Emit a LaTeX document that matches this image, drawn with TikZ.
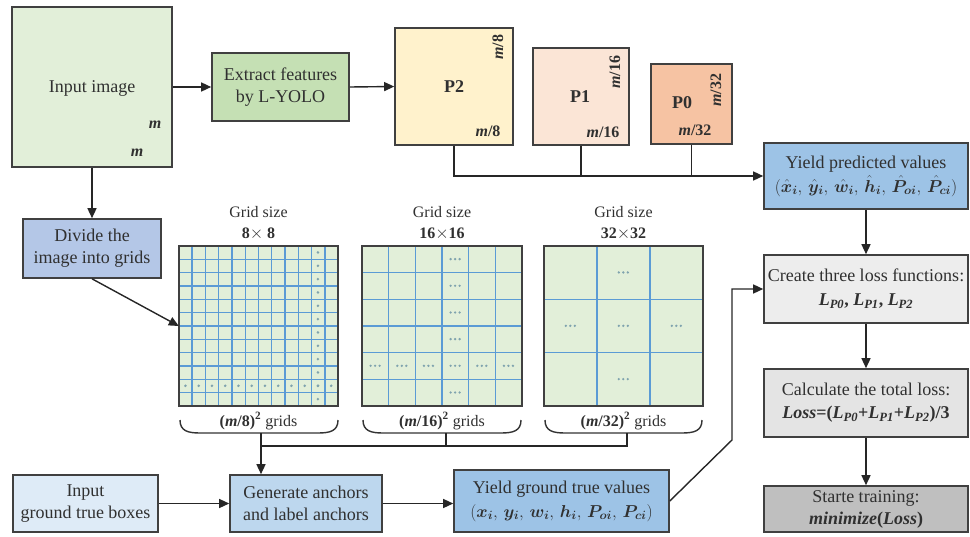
\documentclass[tikz,border=0pt]{standalone}
\usepackage{fontspec}
\setmainfont{Liberation Serif}
\usepackage{bm}
\usetikzlibrary{arrows.meta,calc}

\definecolor{txt}{HTML}{303030}
\definecolor{edge}{HTML}{404040}
\definecolor{greenlt}{HTML}{E2EFD9}
\definecolor{greenmd}{HTML}{C5E0B4}
\definecolor{yellowlt}{HTML}{FFF2CC}
\definecolor{peachlt}{HTML}{FBE5D6}
\definecolor{peachmd}{HTML}{F6C3A3}
\definecolor{bluemd}{HTML}{9DC3E6}
\definecolor{bluelt}{HTML}{DEEBF7}
\definecolor{bluesoft}{HTML}{BDD7EE}
\definecolor{lavender}{HTML}{B4C7E7}
\definecolor{graylt}{HTML}{EDEDED}
\definecolor{graymd}{HTML}{E4E4E4}
\definecolor{graydk}{HTML}{BFBFBF}
\definecolor{gridblue}{HTML}{5B9BD5}
\definecolor{dotc}{HTML}{7FA3AE}

\tikzset{
  box/.style={draw=edge, line width=1.6pt, inner sep=0pt, align=center,
    text=txt, font=\fontsize{18}{22}\selectfont},
  lbl/.style={inner sep=0pt, text=txt, font=\fontsize{16}{19}\selectfont},
  plbl/.style={inner sep=0pt, text=txt, font=\fontsize{16}{19}\selectfont\bfseries},
  link/.style={draw=black!85, line width=1.4pt},
  arr/.style={link, -{Triangle[length=10pt,width=9pt]}},
  gridbox/.style={fill=greenlt, inner sep=0pt},
  gline/.style={draw=gridblue, line width=1.3pt},
  gborder/.style={draw=edge, line width=1.8pt},
  brace/.style={draw=black!80, line width=1.4pt},
}

\newcommand{\mi}{\textbf{\textit{m}}}
\newcommand{\dotthree}[1]{\fill[dotc] ($#1+(-4.5,0)$) circle (1.3pt) ($#1$) circle (1.3pt) ($#1+(4.5,0)$) circle (1.3pt);}

\begin{document}
\begin{tikzpicture}[x=1pt,y=-1pt]
\useasboundingbox (0,0) rectangle (970,536);

% ---------- top row ----------
\node[box, fill=greenlt, minimum width=160pt, minimum height=160pt] (inimg) at (92,87) {};
\node[lbl, font=\fontsize{18}{22}\selectfont] (inimgt) at (92,88) {Input image};
\node[plbl] (inm1) at (155,125) {\mi};
\node[plbl] (inm2) at (137,153) {\mi};

\node[box, fill=greenmd, minimum width=137pt, minimum height=68pt] (extract) at (280.5,87)
  {Extract features\\by L-YOLO};

\node[box, fill=yellowlt, minimum width=118pt, minimum height=117pt] (p2) at (454,86.5) {};
\node[plbl, font=\fontsize{18}{22}\selectfont\bfseries] (p2t) at (454,87) {P2};
\node[plbl] (p2b) at (488,131) {\mi/8};
\node[plbl, rotate=90] (p2r) at (498,47) {\mi/8};

\node[box, fill=peachlt, minimum width=96pt, minimum height=97pt] (p1) at (581,96.5) {};
\node[plbl, font=\fontsize{18}{22}\selectfont\bfseries] (p1t) at (580,97) {P1};
\node[plbl] (p1b) at (603,132) {\mi/16};
\node[plbl, rotate=90] (p1r) at (615,72) {\mi/16};

\node[box, fill=peachmd, minimum width=81pt, minimum height=80pt] (p0) at (691.5,104) {};
\node[plbl, font=\fontsize{18}{22}\selectfont\bfseries] (p0t) at (682,103) {P0};
\node[plbl] (p0b) at (695,130) {\mi/32};
\node[plbl, rotate=90] (p0r) at (716,90) {\mi/32};

% ---------- right column ----------
\node[box, fill=bluemd, minimum width=204pt, minimum height=66pt] (ypred) at (866,176)
  {Yield predicted values\\[2pt]
   $(\bm{\hat{x}_i},\,\bm{\hat{y}_i},\,\bm{\hat{w}_i},\,\bm{\hat{h}_i},\,\bm{\hat{P}_{oi}},\,\bm{\hat{P}_{ci}})$};
\node[box, fill=graylt, minimum width=204pt, minimum height=68pt] (create) at (866,289)
  {Create three loss functions:\\[2pt]
   \textbf{\textit{L}\textsubscript{\textit{P0}}, \textit{L}\textsubscript{\textit{P1}}, \textit{L}\textsubscript{\textit{P2}}}};
\node[box, fill=graymd, minimum width=204pt, minimum height=68pt] (calc) at (866,403)
  {Calculate the total loss:\\[1pt]
   \textbf{\textit{Loss}=(\textit{L}\textsubscript{\textit{P0}}+\textit{L}\textsubscript{\textit{P1}}+\textit{L}\textsubscript{\textit{P2}})/3}};
\node[box, fill=graydk, minimum width=204pt, minimum height=46pt] (train) at (866,509)
  {Starte training:\\[0pt]
   \textbf{\textit{minimize}(\textit{Loss})}};

% ---------- left column / bottom row ----------
\node[box, fill=lavender, minimum width=138pt, minimum height=59pt] (divide) at (92,248.5)
  {Divide the\\image into grids};
\node[box, fill=bluelt, minimum width=145pt, minimum height=57pt] (ingt) at (85.5,503.5)
  {Input\\ground true boxes};
\node[box, fill=bluesoft, minimum width=152pt, minimum height=57pt] (gen) at (306,503.5)
  {Generate anchors\\and label anchors};
\node[box, fill=bluemd, minimum width=215pt, minimum height=62pt] (ygt) at (561.5,501)
  {Yield ground true values\\[2pt]
   $(\bm{x_i},\,\bm{y_i},\,\bm{w_i},\,\bm{h_i},\,\bm{P_{oi}},\,\bm{P_{ci}})$};

% ---------- grids ----------
\node[lbl] (g8a) at (258.5,212) {Grid size};
\node[lbl, font=\fontsize{16}{19}\selectfont\bfseries] (g8b) at (258.5,234) {8$\times$ 8};
\node[lbl] (g16a) at (442,212) {Grid size};
\node[lbl, font=\fontsize{16}{19}\selectfont\bfseries] (g16b) at (442,234) {16$\times$16};
\node[lbl] (g32a) at (623.5,212) {Grid size};
\node[lbl, font=\fontsize{16}{19}\selectfont\bfseries] (g32b) at (623.5,234) {32$\times$32};

\node[gridbox, minimum width=159pt, minimum height=160pt] (g8) at (258.5,326) {};
\node[gridbox, minimum width=160pt, minimum height=160pt] (g16) at (442,326) {};
\node[gridbox, minimum width=159pt, minimum height=160pt] (g32) at (623.5,326) {};

% 12 x 12 cells
\foreach \i in {1,...,11} {
  \draw[gline] ($(g8.north west)!\i/12!(g8.north east)$) -- ($(g8.south west)!\i/12!(g8.south east)$);
  \draw[gline] ($(g8.north west)!\i/12!(g8.south west)$) -- ($(g8.north east)!\i/12!(g8.south east)$);
}
\foreach \r in {1,...,12} {
  \fill[dotc] ($(g8.north west)+({10.5*159/12},{(\r-0.5)*160/12})$) circle (1.4pt);
  \fill[dotc] ($(g8.north west)+({(\r-0.5)*159/12},{10.5*160/12})$) circle (1.4pt);
}
\draw[gborder] (g8.north west) rectangle (g8.south east);

% 6 x 6 cells
\foreach \i in {1,...,5} {
  \draw[gline] ($(g16.north west)!\i/6!(g16.north east)$) -- ($(g16.south west)!\i/6!(g16.south east)$);
  \draw[gline] ($(g16.north west)!\i/6!(g16.south west)$) -- ($(g16.north east)!\i/6!(g16.south east)$);
}
\foreach \r in {1,2,3,4,6} {
  \dotthree{(g16.north west)+({3.5*160/6},{(\r-0.5)*160/6})}
}
\foreach \c in {1,...,6} {
  \dotthree{(g16.north west)+({(\c-0.5)*160/6},{4.5*160/6})}
}
\draw[gborder] (g16.north west) rectangle (g16.south east);

% 3 x 3 cells
\foreach \i in {1,2} {
  \draw[gline] ($(g32.north west)!\i/3!(g32.north east)$) -- ($(g32.south west)!\i/3!(g32.south east)$);
  \draw[gline] ($(g32.north west)!\i/3!(g32.south west)$) -- ($(g32.north east)!\i/3!(g32.south east)$);
}
\foreach \c/\r in {2/1,1/2,2/2,3/2,2/3} {
  \dotthree{(g32.north west)+({(\c-0.5)*159/3},{(\r-0.5)*160/3})}
}
\draw[gborder] (g32.north west) rectangle (g32.south east);

% ---------- braces under the grids ----------
\draw[brace] (180,420) .. controls (180,431) and (188,433) .. (200,433) -- (318,433)
  .. controls (330,433) and (338,431) .. (338,420);
\draw[brace] (363,420) .. controls (363,431) and (371,433) .. (383,433) -- (501,433)
  .. controls (513,433) and (521,431) .. (521,420);
\draw[brace] (545,420) .. controls (545,431) and (553,433) .. (565,433) -- (682,433)
  .. controls (694,433) and (702,431) .. (702,420);
\coordinate (br8) at (261,433);
\coordinate (br16) at (446,433);
\coordinate (br32) at (627,433);
\coordinate (jn) at (0,446);

\node[lbl] (c8) at (258.5,421) {\textbf{(\textit{m}/8)}$^{\mathbf{2}}$ grids};
\node[lbl] (c16) at (442,421) {\textbf{(\textit{m}/16)}$^{\mathbf{2}}$ grids};
\node[lbl] (c32) at (623.5,421) {\textbf{(\textit{m}/32)}$^{\mathbf{2}}$ grids};

% ---------- connectors ----------
\draw[arr] (inimg.east) -- (extract.west);
\draw[arr] (extract.east) -- (p2.west);
\draw[arr] (p2.south) |- (ypred.west);
\draw[link] (p1.south) -- (p1.south |- ypred.west);
\draw[link] (p0.south) -- (p0.south |- ypred.west);

\draw[arr] (inimg.south) -- (divide.north);
\draw[arr] (divide.south) -- (g8.west);

\draw[arr] (br8) -- (br8 |- gen.north);
\draw[link] (br32) -- (br32 |- jn) -- (br8 |- jn);
\draw[link] (br16) -- (br16 |- jn);

\draw[arr] (ingt.east) -- (gen.west);
\draw[arr] (gen.east) -- (gen.east -| ygt.west);

\coordinate (kink) at (732,440);
\draw[arr] (ygt.east) -- (kink) |- (create.west);

\draw[arr] (ypred.south) -- (create.north);
\draw[arr] (create.south) -- (calc.north);
\draw[arr] (calc.south) -- (train.north);
\end{tikzpicture}
\end{document}
